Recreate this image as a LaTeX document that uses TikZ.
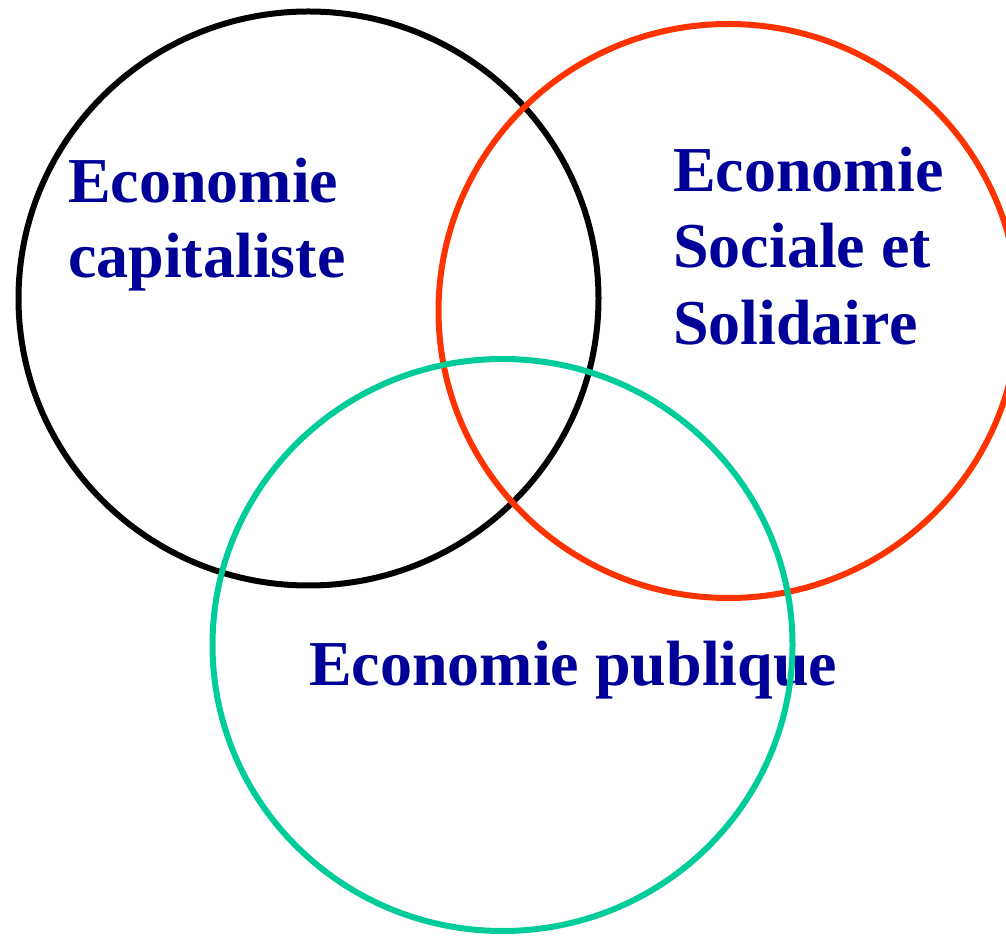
\documentclass[tikz,border=0pt]{standalone}
\usepackage{fontspec}
\setmainfont{Liberation Serif}
\definecolor{lblue}{RGB}{0,0,153}
\definecolor{cred}{RGB}{255,51,0}
\definecolor{cgreen}{RGB}{0,204,153}
\tikzset{
  lbl/.style={anchor=base west, inner sep=0pt, align=left, text=lblue,
    font=\fontsize{64}{77}\selectfont\bfseries},
  ring/.style={line width=6pt}
}
\begin{document}
\begin{tikzpicture}[x=1pt,y=1pt]
\useasboundingbox (0,0) rectangle (1006,935);
\node[lbl] (cap) at (68,732) {Economie};
\node[lbl] (cap2) at (68,657) {capitaliste};
\node[lbl] (ess) at (673,743) {Economie};
\node[lbl] (ess2) at (673,667) {Sociale et};
\node[lbl] (ess3) at (673,590) {Solidaire};
\node[lbl] (pub) at (309,250) {Economie publique};
\draw[ring, black] (308.5,636.5) ellipse [x radius=290, y radius=287];
\draw[ring, cred] (728.5,624) ellipse [x radius=290, y radius=287];
\draw[ring, cgreen] (502.5,290) ellipse [x radius=290, y radius=286];
\end{tikzpicture}
\end{document}
